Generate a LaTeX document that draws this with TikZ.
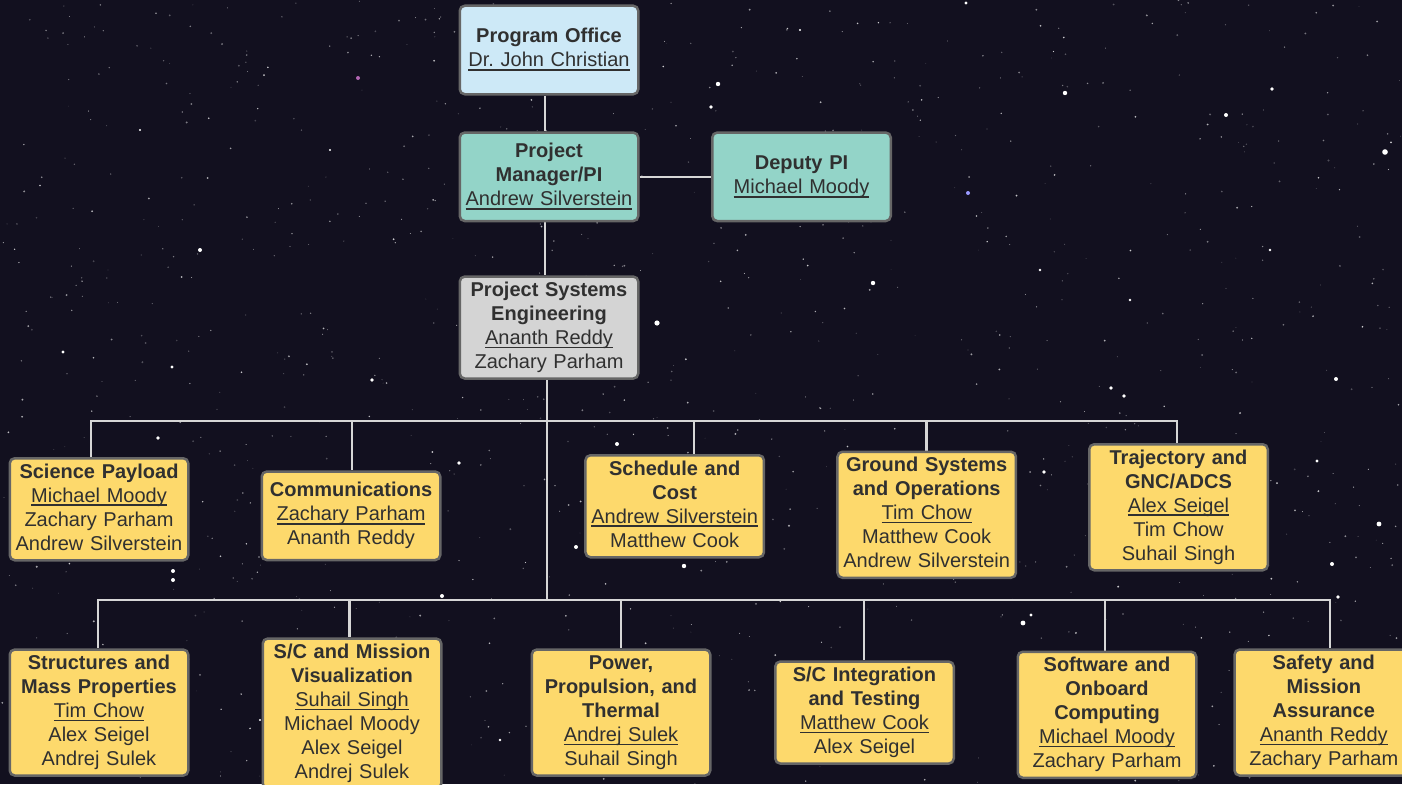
\documentclass[tikz,border=0pt]{standalone}
\usepackage{fontspec}
\setmainfont{Liberation Sans}
\definecolor{bgc}{HTML}{12101F}
\definecolor{yel}{HTML}{FDD96C}
\definecolor{teal}{HTML}{93D4C8}
\definecolor{lblue}{HTML}{CDE9F7}
\definecolor{lgray}{HTML}{D4D4D4}
\definecolor{boxborder}{HTML}{666666}
\definecolor{txt}{HTML}{303030}
\definecolor{connc}{HTML}{D6D6D6}
\newcommand\uname[1]{\leavevmode\setbox0\hbox{#1}\rlap{\vrule height -2.2pt depth 3.9pt width \wd0}\box0}
\pgfdeclarelayer{back}
\pgfdeclarelayer{mid}
\pgfsetlayers{back,mid,main}
\tikzset{
  box/.style={draw=boxborder, line width=2.5pt, rounded corners=5pt, text width=170pt,
    align=center, inner xsep=4.25pt, inner ysep=3pt, minimum height=88.5pt,
    font=\fontsize{20}{24}\selectfont, text=txt, anchor=north},
  ybox/.style={box, fill=yel},
  tbox/.style={box, fill=teal},
  bbox/.style={box, fill=lblue},
  gbox/.style={box, fill=lgray},
  conn/.style={draw=connc, line width=2.5pt},
  star/.style={fill=white},
}
\begin{document}
\begin{tikzpicture}[x=1pt,y=-1pt]
\useasboundingbox (0,0) rectangle (1402,784);
\begin{pgfonlayer}{back}
  \fill[bgc] (0,0) rectangle (1402,784);
  \pgfmathsetseed{4242}
  \foreach \i in {1,...,1100}{
    \pgfmathsetmacro{\sx}{1402*rnd}
    \pgfmathsetmacro{\sy}{784*rnd}
    \pgfmathsetmacro{\sr}{0.35+0.7*rnd}
    \pgfmathsetmacro{\so}{0.2+0.6*rnd}
    \fill[white, opacity=\so] (\sx,\sy) circle (\sr);
  }
  \foreach \x/\y/\r in {1385/152/2.8, 1065/93/2.2, 1226/115/2, 1272/89/1.8, 718/84/2.2, 711/107/1.8,
    873/283/2.2, 657/323/2.6, 1111/388/1.8, 1124/396/1.8, 1336/379/2, 1317/461/1.6, 1379/524/2.4,
    1332/564/2, 1044/472/1.8, 617/444/2, 684/566/2.2, 576/547/2, 158/438/1.8, 173/571/2, 173/580/2,
    459/463/1.8, 442/596/2, 1023/623/2.4, 1031/615/1.6, 1338/597/1.8, 372/380/1.8, 172/367/1.6,
    200/250/2, 63/352/1.6, 1130/300/1.4, 966/3/1.6, 1398/760/1.6, 1360/680/1.4, 800/30/1.2, 260/720/1.2,
    500/740/1.4, 950/520/1.2, 1160/720/1.4, 20/470/1.2, 1270/250/1.4, 1040/270/1.4, 140/130/1.2, 330/150/1.2}{
    \fill[star] (\x,\y) circle (\r);
  }
  \fill[violet!60!white] (358,78) circle (2);
  \fill[blue!40!white] (968,193) circle (2);
\end{pgfonlayer}

% top chain
\node[bbox] (po) at (549,4.5) {\strut\textbf{Program Office}\\\uname{Dr.\ John Christian}\strut};
\node[tbox] (pm) at (549,131.3) {\strut\textbf{Project}\\\textbf{Manager/PI}\\\uname{Andrew Silverstein}\strut};
\node[tbox] (dp) at (801.5,131.3) {\strut\textbf{Deputy PI}\\\uname{Michael Moody}\strut};
\node[gbox] (pse) at (549,275.3) {\strut\textbf{Project Systems}\\\textbf{Engineering}\\\uname{Ananth Reddy}\\Zachary Parham\strut};

% first row
\node[ybox] (sci) at (99,457) {\strut\textbf{Science Payload}\\\uname{Michael Moody}\\Zachary Parham\\Andrew Silverstein\strut};
\node[ybox] (com) at (351,470.3) {\strut\textbf{Communications}\\\uname{Zachary Parham}\\Ananth Reddy\strut};
\node[ybox] (sch) at (674.7,454) {\strut\textbf{Schedule and}\\\textbf{Cost}\\\uname{Andrew Silverstein}\\Matthew Cook\strut};
\node[ybox] (gnd) at (926.7,450.5) {\strut\textbf{Ground Systems}\\\textbf{and Operations}\\\uname{Tim Chow}\\Matthew Cook\\Andrew Silverstein\strut};
\node[ybox] (trj) at (1178.5,443) {\strut\textbf{Trajectory and}\\\textbf{GNC/ADCS}\\\uname{Alex Seigel}\\Tim Chow\\Suhail Singh\strut};

% second row
\node[ybox] (str) at (99,648.3) {\strut\textbf{Structures and}\\\textbf{Mass Properties}\\\uname{Tim Chow}\\Alex Seigel\\Andrej Sulek\strut};
\node[ybox] (vis) at (352,637.3) {\strut\textbf{S/C and Mission}\\\textbf{Visualization}\\\uname{Suhail Singh}\\Michael Moody\\Alex Seigel\\Andrej Sulek\strut};
\node[ybox] (pow) at (621,648.3) {\strut\textbf{Power,}\\\textbf{Propulsion, and}\\\textbf{Thermal}\\\uname{Andrej Sulek}\\Suhail Singh\strut};
\node[ybox] (int) at (864.5,660.3) {\strut\textbf{S/C Integration}\\\textbf{and Testing}\\\uname{Matthew Cook}\\Alex Seigel\strut};
\node[ybox] (sw) at (1107,650.5) {\strut\textbf{Software and}\\\textbf{Onboard}\\\textbf{Computing}\\\uname{Michael Moody}\\Zachary Parham\strut};
\node[ybox] (saf) at (1323.8,648.3) {\strut\textbf{Safety and}\\\textbf{Mission}\\\textbf{Assurance}\\\uname{Ananth Reddy}\\Zachary Parham\strut};

\begin{pgfonlayer}{mid}
  \coordinate (bus1) at (547,421);
  \coordinate (bus2) at (547,600);
  \draw[conn] ([xshift=-4pt]po.south) -- ([xshift=-4pt]pm.north);
  \draw[conn] (pm.east) -- (dp.west);
  \draw[conn] ([xshift=-4pt]pm.south) -- ([xshift=-4pt]pse.north);
  \draw[conn] ([xshift=-2pt]pse.south) -- (bus2);
  \draw[conn] (bus1) -| ([xshift=-8pt]sci.north);
  \draw[conn] (bus1) -| ([xshift=1pt]com.north);
  \draw[conn] (bus1) -| ([xshift=19.3pt]sch.north);
  \draw[conn] (bus1) -| (gnd.north);
  \draw[conn] (bus1) -| ([xshift=-1.5pt]trj.north);
  \draw[conn] (bus2) -| ([xshift=-1pt]str.north);
  \draw[conn] (bus2) -| ([xshift=-2.7pt]vis.north);
  \draw[conn] (bus2) -| (pow.north);
  \draw[conn] (bus2) -| ([xshift=-0.5pt]int.north);
  \draw[conn] (bus2) -| ([xshift=-2pt]sw.north);
  \draw[conn] (bus2) -| ([xshift=6.2pt]saf.north);
\end{pgfonlayer}
\end{tikzpicture}
\end{document}
